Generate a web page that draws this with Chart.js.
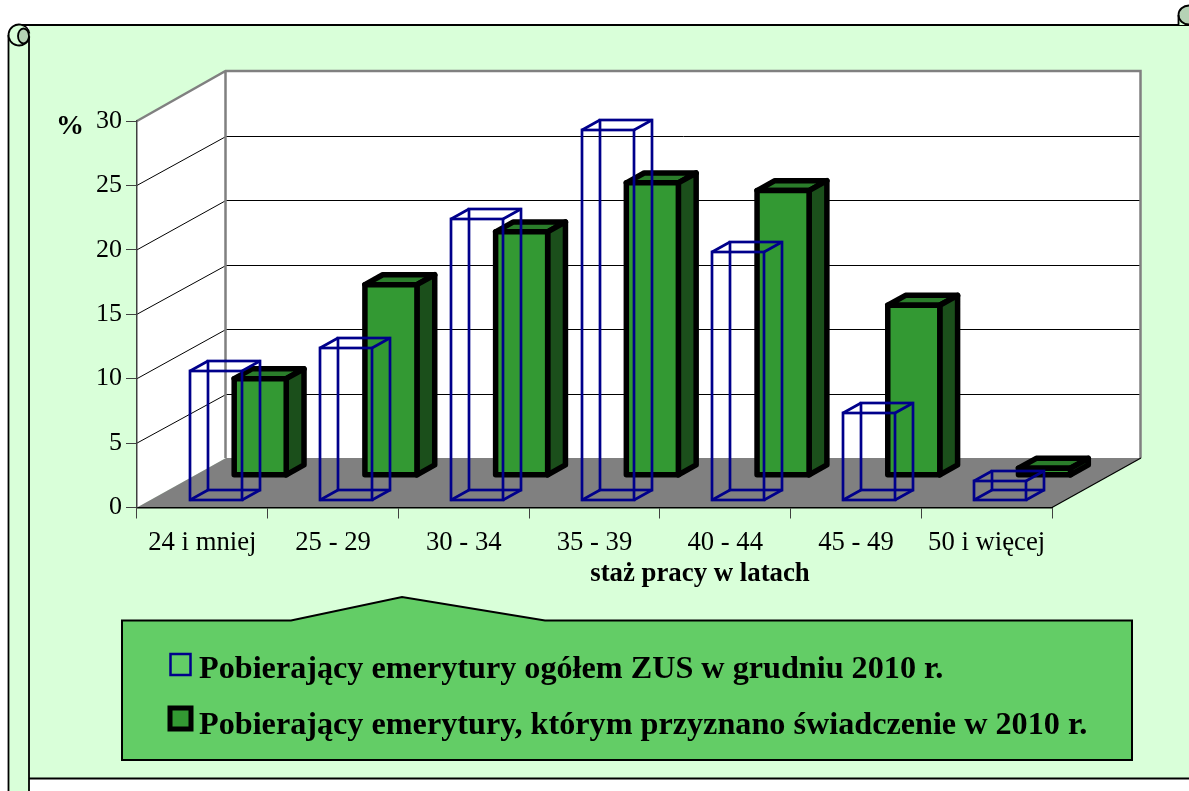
<!DOCTYPE html>
<html lang="pl">
<head>
<meta charset="utf-8">
<title>Staż pracy</title>
<script src="https://cdn.jsdelivr.net/npm/chart.js@4"></script>
<style>
  html, body { margin: 0; background: #fff; overflow: hidden; }
  canvas { display: block; }
</style>
</head>
<body>
<canvas id="chart" width="1189" height="791"></canvas>
<script>
const categories = ["24 i mniej", "25 - 29", "30 - 34", "35 - 39", "40 - 44", "45 - 49", "50 i więcej"];
const allPensioners = [10.0, 11.8, 21.8, 28.7, 19.3, 6.8, 1.5];
const newPensioners = [7.5, 14.8, 18.9, 22.7, 22.1, 13.2, 0.55];
const seriesNames = [
  "Pobierający emerytury ogółem ZUS w grudniu 2010 r.",
  "Pobierający emerytury, którym przyznano świadczenie w 2010 r.",
];
const xTitle = "staż pracy w latach";
const yUnit = "%";

const SERIF = '"Liberation Serif", "Times New Roman", serif';
const PANEL = "#d9ffd9";
const BOX = "#63cd66";
const NAVY = "#00008b";
const WALL_GREY = "#808080";

// Fake 3D: whole plot depth, and where each series sits in that depth (0..1)
const DEPTH_X = 89;
const DEPTH_Y = -49.5;
const BAR_DEPTH = 0.2;
const SERIES_Z = [0.148, 0.65];

const poly = (ctx, pts) => {
  ctx.beginPath();
  pts.forEach(([x, y], i) => (i ? ctx.lineTo(x, y) : ctx.moveTo(x, y)));
  ctx.closePath();
};

const drawFrame = (ctx) => {
  ctx.save();
  ctx.fillStyle = "#fff";
  ctx.fillRect(0, 0, 1189, 791);
  // panel and the rolled left edge
  ctx.fillStyle = PANEL;
  ctx.fillRect(29, 25, 1160, 753);
  ctx.fillRect(8.5, 35, 20.5, 756);
  ctx.strokeStyle = "#000";
  ctx.lineWidth = 2;
  ctx.beginPath();
  ctx.moveTo(19, 25);
  ctx.lineTo(1189, 25);
  ctx.stroke();
  ctx.lineWidth = 1.8;
  ctx.beginPath();
  ctx.moveTo(29, 36);
  ctx.lineTo(29, 791);
  ctx.moveTo(29, 778.5);
  ctx.lineTo(1189, 778.5);
  ctx.moveTo(8.5, 35);
  ctx.lineTo(8.5, 791);
  ctx.stroke();
  // top-left curl
  ctx.fillStyle = PANEL;
  ctx.beginPath();
  ctx.arc(19, 35, 10.5, 0, Math.PI * 2);
  ctx.fill();
  ctx.fillStyle = "#b5d2b5";
  ctx.beginPath();
  ctx.ellipse(23.5, 36, 5.5, 7.5, 0, 0, Math.PI * 2);
  ctx.fill();
  ctx.stroke();
  ctx.beginPath();
  ctx.arc(19, 35, 10.5, Math.PI * 0.05, Math.PI * 1.95);
  ctx.stroke();
  // top-right curl
  ctx.fillStyle = PANEL;
  ctx.fillRect(1178, 16, 11, 9);
  ctx.fillStyle = "#b5d2b5";
  ctx.beginPath();
  ctx.ellipse(1189, 15, 10.5, 9.5, 0, 0, Math.PI * 2);
  ctx.fill();
  ctx.stroke();
  ctx.beginPath();
  ctx.moveTo(1178.5, 15);
  ctx.lineTo(1178.5, 25);
  ctx.stroke();
  ctx.restore();
};

const drawWalls = (chart) => {
  const {ctx, chartArea: {left, right, top, bottom}, scales: {y}} = chart;
  const bx = left + DEPTH_X;
  const rx = right + DEPTH_X;
  const back = (v) => y.getPixelForValue(v) + DEPTH_Y;
  ctx.save();
  ctx.fillStyle = "#fff";
  poly(ctx, [[left, top], [bx, back(30)], [rx, back(30)], [rx, back(0)], [bx, back(0)], [left, bottom]]);
  ctx.fill();
  ctx.fillStyle = WALL_GREY;
  poly(ctx, [[left, bottom], [bx, back(0)], [rx, back(0)], [right, bottom]]);
  ctx.fill();
  // gridlines run along side wall then back wall
  ctx.strokeStyle = "#000";
  ctx.lineWidth = 1;
  y.ticks.forEach(({value}) => {
    if (value === 0 || value === 30) return;
    const snapped = Math.round(back(value)) + 0.5;
    ctx.beginPath();
    ctx.moveTo(left, y.getPixelForValue(value));
    ctx.lineTo(bx, snapped);
    ctx.lineTo(rx, snapped);
    ctx.stroke();
  });
  const topY = Math.floor(back(30));
  ctx.strokeStyle = WALL_GREY;
  ctx.lineWidth = 2.5;
  ctx.beginPath();
  ctx.moveTo(left, top);
  ctx.lineTo(bx - 0.5, topY);
  ctx.lineTo(rx - 0.5, topY);
  ctx.lineTo(rx - 0.5, back(0));
  ctx.moveTo(bx - 0.5, topY);
  ctx.lineTo(bx - 0.5, back(0));
  ctx.stroke();
  ctx.strokeStyle = "#000";
  ctx.lineWidth = 1.2;
  ctx.beginPath();
  ctx.moveTo(right, bottom);
  ctx.lineTo(rx, back(0));
  ctx.stroke();
  ctx.restore();
};

const boxCorners = (el, z) => {
  const ox = DEPTH_X * z;
  const oy = DEPTH_Y * z;
  const dx = DEPTH_X * BAR_DEPTH;
  const dy = DEPTH_Y * BAR_DEPTH;
  const l = el.x - el.width / 2 + ox;
  const r = el.x + el.width / 2 + ox;
  const t = el.y + oy;
  const b = el.base + oy;
  return {l, r, t, b, dx, dy};
};

const drawWireBar = (ctx, el, z) => {
  const c = boxCorners(el, z);
  // snap to whole pixels so the outline stays crisp like the original
  const l = Math.round(c.l);
  const r = Math.round(c.r);
  const t = Math.round(c.t);
  const b = Math.round(c.b);
  const dx = Math.round(c.dx);
  const dy = Math.round(c.dy);
  ctx.save();
  ctx.strokeStyle = NAVY;
  ctx.lineWidth = 2.7;
  ctx.strokeRect(l, t, r - l, b - t);
  ctx.strokeRect(l + dx, t + dy, r - l, b - t);
  ctx.beginPath();
  [[l, t], [r, t], [l, b], [r, b]].forEach(([x, y]) => {
    ctx.moveTo(x, y);
    ctx.lineTo(x + dx, y + dy);
  });
  ctx.stroke();
  ctx.restore();
};

const drawSolidBar = (ctx, el, z) => {
  const {l, r, t, b, dx, dy} = boxCorners(el, z);
  const faces = [
    ["#2b7d2b", [[l, t], [r, t], [r + dx, t + dy], [l + dx, t + dy]]],
    ["#1b4f1b", [[r, t], [r + dx, t + dy], [r + dx, b + dy], [r, b]]],
    ["#339933", [[l, t], [r, t], [r, b], [l, b]]],
  ];
  ctx.save();
  ctx.strokeStyle = "#000";
  ctx.lineWidth = 5.5;
  ctx.lineJoin = "round";
  faces.forEach(([color, pts]) => {
    ctx.fillStyle = color;
    poly(ctx, pts);
    ctx.fill();
    ctx.stroke();
  });
  ctx.restore();
};

const drawLegendBox = (chart) => {
  const {ctx} = chart;
  ctx.save();
  ctx.fillStyle = BOX;
  ctx.strokeStyle = "#000";
  ctx.lineWidth = 2;
  poly(ctx, [[122, 620.5], [291, 620.5], [402, 597], [545, 620.5], [1132, 620.5], [1132, 760], [122, 760]]);
  ctx.fill();
  ctx.stroke();

  ctx.strokeStyle = NAVY;
  ctx.lineWidth = 2.5;
  ctx.strokeRect(170.5, 654, 20, 21);
  ctx.strokeStyle = "#000";
  ctx.fillStyle = "#339933";
  ctx.lineWidth = 5;
  ctx.fillRect(170, 708, 21, 21);
  ctx.strokeRect(170, 708, 21, 21);

  ctx.fillStyle = "#000";
  ctx.font = `bold 32.2px ${SERIF}`;
  ctx.textAlign = "left";
  ctx.textBaseline = "alphabetic";
  chart.data.datasets.forEach((ds, i) => ctx.fillText(ds.label, 199, i ? 733.5 : 677.5));

  ctx.font = `bold 26.8px ${SERIF}`;
  ctx.textAlign = "center";
  ctx.fillText(xTitle, 700, 581);
  ctx.font = `bold 28px ${SERIF}`;
  ctx.fillText(yUnit, 70, 134);
  ctx.restore();
};

const pseudo3d = {
  id: "pseudo3d",
  beforeDraw(chart) {
    drawFrame(chart.ctx);
    drawWalls(chart);
  },
  // replaces the flat bar drawing, geometry still comes from the bar elements
  beforeDatasetDraw(chart, {index, meta}) {
    meta.data.forEach((el) => {
      if (index === 0) drawWireBar(chart.ctx, el, SERIES_Z[0]);
      else drawSolidBar(chart.ctx, el, SERIES_Z[1]);
    });
    return false;
  },
  afterDraw: drawLegendBox,
};

new Chart(document.getElementById("chart"), {
  type: "bar",
  data: {
    labels: categories,
    datasets: [
      {label: seriesNames[0], data: allPensioners, grouped: false},
      {label: seriesNames[1], data: newPensioners, grouped: false},
    ],
  },
  plugins: [pseudo3d],
  options: {
    responsive: false,
    animation: false,
    barPercentage: 0.398,
    categoryPercentage: 1,
    layout: {padding: {top: 121, right: 137, left: 0, bottom: 0}},
    plugins: {legend: {display: false}, tooltip: {enabled: false}, title: {display: false}},
    scales: {
      x: {
        afterFit(scale) { scale.height = 283.5; },
        grid: {drawOnChartArea: false, tickLength: 11, color: "#404040", lineWidth: 1},
        border: {color: "#000", width: 1.5},
        ticks: {color: "#000", padding: 8, maxRotation: 0, autoSkip: false, font: {family: SERIF, size: 26.7}},
      },
      y: {
        min: 0,
        max: 30,
        afterFit(scale) { scale.width = 137; },
        grid: {drawOnChartArea: false, tickLength: 11, color: "#404040", lineWidth: 1},
        border: {color: "#404040", width: 1.5},
        ticks: {stepSize: 5, color: "#000", padding: 4, font: {family: SERIF, size: 26}},
      },
    },
  },
});
</script>
</body>
</html>
